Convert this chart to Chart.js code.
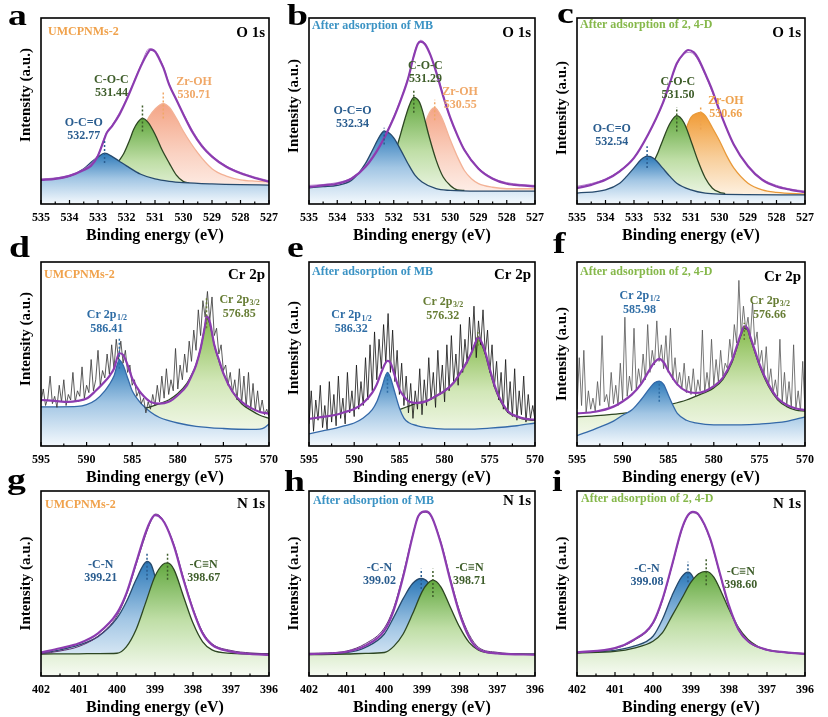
<!DOCTYPE html>
<html><head><meta charset="utf-8">
<script src="https://cdn.jsdelivr.net/npm/chart.js@4"></script>
<style>
body{margin:0;background:#fff;width:828px;height:717px;position:relative;overflow:hidden}
canvas{position:absolute}
.lt{position:absolute;font:bold 29px 'Liberation Serif',serif;line-height:1;color:#000;transform:scaleX(1.3);transform-origin:0 0}
</style></head><body>
<script>
// ---------------- DATA (x = binding energy eV, y = intensity a.u. 0-100) ----------------
// a: UMCPNMs-2, O 1s
const aPeaks = [532.77, 531.44, 530.71];
const aEnv = [[535,12.9],[534.5,13.5],[534,15.1],[533.5,18.3],[533.25,20.5],[533,26],[532.8,34],[532.7,38],[532.5,42],[532.25,48],[532,56],[531.75,65],[531.5,74],[531.3,80],[531.15,83],[531,82],[530.85,78],[530.7,73],[530.5,64],[530.25,56],[530,48],[529.7,39],[529.35,31],[529,25.5],[528.5,20],[528,16.5],[527.5,14],[527,12]];
const aRaw = [[535,13.5],[534.5,14],[534,15.5],[533.5,18.8],[533,26.5],[532.7,38.5],[532.5,42.5],[532,56.5],[531.5,74.5],[531.2,83.5],[531,82.5],[530.7,73.5],[530.5,64.5],[530,48.5],[529.5,35],[529,26],[528.5,20.5],[528,17],[527.5,14.5],[527,12.5]];
const aBlue = [[535,12.9],[534.5,13.8],[534,15],[533.5,19],[533.2,23],[533,25.3],[532.77,27.3],[532.5,25.5],[532.25,23],[532,20.5],[531.5,16],[531,13.5],[530.5,12.2],[530,11.5],[529,10.8],[528,10.4],[527,10.2]];
const aGreen = [[532.3,22.5],[532.1,27],[531.9,34],[531.75,40],[531.6,44],[531.44,46],[531.25,44],[531,37.5],[530.75,29],[530.5,22],[530.25,15.5],[530,12],[529.8,11.3]];
const aOrange = [[533,13.6],[532.5,17],[532,24],[531.5,38],[531.2,47],[531,51],[530.71,54],[530.5,52],[530.25,46],[530,39],[529.5,27.5],[529,19],[528.5,15],[528,13],[527.5,12.3],[527,12]];
const aMarks = [[22,34.5],[39,53],[46,61]];

// b: After adsorption of MB, O 1s
const bPeaks = [532.34, 531.29, 530.55];
const bEnv = [[535,9.1],[534.5,10],[534,10.9],[533.5,13.6],[533,20],[532.5,31],[532,46.4],[531.75,56],[531.5,67],[531.3,79],[531.15,86],[531.05,87.3],[530.9,86],[530.7,80],[530.5,71],[530.25,58],[530,46.4],[529.75,37],[529.5,29],[529,19],[528.5,13.6],[528,10.9],[527.5,10],[527,9.5]];
const bRaw = [[535,10],[534.5,10.5],[534,11.5],[533.5,14],[533,20.5],[532.5,31.5],[532,47],[531.5,67.5],[531.2,84.5],[531.05,88],[530.9,86.5],[530.5,71.5],[530,46],[529.5,29.5],[529,19.5],[528.5,14],[528,11.5],[527.5,10.5],[527,10]];
const bBlue = [[535,8.7],[534.5,9.3],[534,10],[533.5,12.7],[533.25,16.5],[533,21.8],[532.75,29],[532.5,36.4],[532.34,39.1],[532.15,38],[532,35.5],[531.75,29],[531.5,21.8],[531.25,15.5],[531,11.8],[530.5,8.2],[530,7.3],[529,6.9],[527,6.9]];
const bGreen = [[531.9,30],[531.75,38],[531.6,46],[531.45,53],[531.29,57.3],[531.1,55],[531,51],[530.75,36.4],[530.5,23.6],[530.25,14.5],[530,10],[529.75,7.6],[529.5,7.3]];
const bOrange = [[531.2,25],[531,36],[530.8,47],[530.55,51.8],[530.3,46.4],[530,34.5],[529.75,25.5],[529.5,18],[529.25,13.6],[529,11],[528.5,9],[528,8.2],[527,8.2]];
const bMarks = [[32,41],[49,62],[45,56]];

// c: After adsorption of 2, 4-D, O 1s
const cPeaks = [532.54, 531.50, 530.66];
const cEnv = [[535,8.5],[534.5,10.3],[534,13],[533.5,17.6],[533,24.8],[532.5,37.5],[532,53.8],[531.75,64.7],[531.5,75.5],[531.25,81],[531.1,82.8],[530.9,81.5],[530.75,78.3],[530.5,70],[530.25,61],[530,50.2],[529.5,32],[529,20.3],[528.5,13],[528,9.4],[527.5,7.6],[527,6.3]];
const cRaw = [[535,9.5],[534.5,11],[534,13.5],[533.5,18],[533,25],[532.5,37.5],[532,53.5],[531.5,75],[531.25,80.5],[531.1,81.5],[530.9,80.5],[530.5,69.5],[530,50],[529.5,32],[529,20.5],[528.5,13.5],[528,10],[527.5,8],[527,7]];
const cBlue = [[535,5.8],[534,7.6],[533.5,11.2],[533.25,15],[533,19.4],[532.75,23.9],[532.54,25.7],[532.3,24.5],[532,19.4],[531.75,15],[531.5,11.2],[531,7.6],[530.5,5.8],[530,5.3],[527,4.9]];
const cGreen = [[532.3,23],[532.15,28],[532,33.9],[531.75,43],[531.5,47.5],[531.25,43.8],[531,33.9],[530.75,23],[530.5,14],[530.25,8.5],[530,6.3],[529.8,5.6]];
const cOrange = [[531.25,37.5],[531,46.6],[530.8,48.7],[530.66,49.3],[530.5,47.5],[530.25,41],[530,34],[529.75,26],[529.5,19.4],[529,11.2],[528.5,7.6],[528,6.3],[527,5.3]];
const cMarks = [[19.4,31],[39,52],[40,52]];

// d: UMCPNMs-2, Cr 2p
const dPeaks = [586.41, 576.85];
const dEnv = [[595,25],[593.5,24.5],[592,24],[591,24.5],[590,25.8],[589,30],[588,35],[587.5,38],[587,42],[586.41,50.4],[586,49.5],[585.5,44],[585,36.7],[584.5,32],[584,28.5],[583,24],[582,23],[581,24],[580,27.6],[579,33],[578.5,38],[578,44],[577.5,53],[577,65.8],[576.85,70.4],[576.5,67.6],[576,55],[575.5,47],[575,39.5],[574,29.5],[573,24],[572,20.7],[571,18.5],[570,17.6]];
const dBlue = [[595,21.3],[593,21.3],[591,21.5],[590,22.5],[589,25],[588,30],[587.5,33.5],[587,38],[586.41,46.7],[586,44],[585.5,37],[585,30],[584.5,26],[584,23],[583,18.5],[582,15.5],[581,13.8],[580,12.5],[578,10.7],[575,9.5],[572,9],[571,9.2],[570.5,10],[570,12]];
const dGreen = [[587,16.7],[586,17.5],[585,18.5],[584,20],[583,21.3],[582,23],[581,25],[580,28.5],[579,34],[578.5,38.5],[578,44],[577.5,53],[577,65.8],[576.85,69.5],[576.5,66.7],[576,55],[575.5,46.5],[575,39.5],[574,29.5],[573,23],[572,19.5],[571,16.7],[570,15]];
const dRaw = [24,31,22,26,38,23,27,21,33,24, 36,22,28,25,40,24,30,27,43,26, 33,29,47,30,36,52,33,41,37,50, 39,55,42,58,47,57,45,52,40,44, 33,36,27,30,23,26,18,24,20,28, 22,33,24,38,26,42,28,36,30,53, 31,44,36,50,40,57,46,63,52,74, 60,79,70,84,68,81,60,64,50,55, 41,44,33,40,29,36,25,42,23,38, 21,40,20,34,19,30,18,25,17,20, 16];
const dMarks = [[42,58.5],[64,81]];

// e: After adsorption of MB, Cr 2p
const ePeaks = [586.32, 576.32];
const eEnv = [[595,14.7],[593.5,15.8],[592,17],[591,18.5],[590,20.1],[589,23.4],[588,29],[587.5,33.5],[587,40],[586.32,46.3],[586,45.4],[585.5,38],[585,30.8],[584.5,27],[584,24.4],[583,23.4],[582,24.4],[581,27],[580,29.9],[579,34.4],[578,41.8],[577.5,46],[577,51],[576.5,57.3],[576.32,59.2],[576,57.3],[575.5,51],[575,41.8],[574.5,33.5],[574,27],[573,18.9],[572,16.1],[571,14.7],[570,14.3]];
const eBlue = [[595,6.6],[593.5,8.2],[592,9.7],[591,11.1],[590,12.5],[589,15.2],[588,19.8],[587.5,24],[587,30.8],[586.32,40],[586,37.2],[585.5,29],[585,20.7],[584.5,15.2],[584,12.8],[583,11],[582,10],[580,9.2],[577,9.2],[575,9.7],[572,11],[570,12.5]];
const eGreen = [[585,19.8],[584,21.6],[583,23.4],[582,24.4],[581,27],[580,29.9],[579,34.4],[578,41.8],[577.5,46],[577,51],[576.5,57.3],[576.32,59.2],[576,56.4],[575.5,50],[575,40.8],[574.5,32.5],[574,26.2],[573,18.3],[572,15.8],[571,14.3],[570,13.9]];
const eRaw = [12,30,8,25,14,33,10,22,9,35, 13,28,11,38,15,26,12,40,18,30, 16,44,20,35,22,48,25,55,30,62, 36,58,42,66,45,72,40,63,35,52, 28,45,22,38,18,34,15,30,20,42, 17,36,22,48,25,40,21,52,28,44, 24,55,30,60,35,50,33,66,40,58, 45,70,52,76,48,68,55,74,50,63, 40,55,32,46,25,40,20,47,18,35, 16,42,14,30,17,38,13,28,15,22, 14];
const eMarks = [[29,40],[54.5,62]];

// f: After adsorption of 2, 4-D, Cr 2p
const fPeaks = [585.98, 576.66];
const fEnv = [[595,17.7],[593,18.6],[591,21.4],[590,24.2],[589,27.9],[588,33.5],[587,41.8],[586.5,45.5],[585.98,47.4],[585.5,45.5],[585,40.9],[584,33.5],[583,29.7],[582,28.8],[581,29.7],[580,32.5],[579,37.2],[578,46.5],[577.5,53.9],[577,61.3],[576.66,65],[576.3,64],[576,59.5],[575.5,52],[575,44.6],[574,33.5],[573,26],[572,22.3],[571,20.4],[570,19.5]];
const fBlue = [[595,5.6],[593,9.3],[591,13.5],[590,16.7],[589,19.5],[588,25],[587,31.6],[586.5,34.4],[585.98,35.3],[585.5,33.5],[585,27.9],[584.5,22.3],[584,17.7],[583,14],[582,12.6],[580,11.5],[577,11.5],[575,11.9],[572,13.4],[570,15.8]];
const fGreen = [[595,15.8],[592,16.8],[590,17.7],[587,20],[585,22.3],[583,25],[582,27],[581,29],[580,31.6],[579,36.2],[578,45.5],[577.5,53],[577,60.4],[576.66,64.1],[576.3,63.2],[576,58.6],[575.5,51.1],[575,43.7],[574,32.5],[573,25.1],[572,21.4],[571,19.5],[570,19]];
const fRaw = [20,48,22,52,18,30,20,26,19,35, 22,60,24,28,21,40,23,33,22,45, 25,70,27,38,30,64,31,42,34,50, 36,66,40,52,44,68,46,55,42,60, 40,64,36,48,33,40,31,45,29,38, 28,42,27,36,30,63,29,40,31,58, 33,47,35,52,38,45,42,58,48,66, 56,90,60,76,63,70,58,78,55,62, 45,52,38,54,33,42,29,36,27,58, 24,40,22,35,21,55,20,30,19,46, 19];
const fMarks = [[24,35],[57.6,67]];
const crRawStart = 595, crRawStep = 0.25;

// g: UMCPNMs-2, N 1s
const gPeaks = [399.21, 398.67];
const gEnv = [[402,12.7],[401.5,15],[401,17.7],[400.5,23.1],[400,34],[399.75,44.8],[399.5,61],[399.25,77.4],[399.1,84.6],[399,87],[398.9,86.4],[398.75,82.8],[398.5,70.2],[398.25,52],[398,35.8],[397.75,23.1],[397.5,16.8],[397,13.2],[396.5,11.9],[396,11.4]];
const gRaw = [[402,12],[401.5,13.5],[401,16],[400.5,21.5],[400,32.5],[399.75,44],[399.5,60],[399.25,76],[399.1,84],[399,87.5],[398.9,87],[398.75,83],[398.5,71],[398.25,53],[398,36.5],[397.75,24],[397.5,17.5],[397,13.8],[396.5,12.5],[396,12]];
const gBlue = [[402,12.3],[401.5,14.1],[401,16.8],[400.5,21.3],[400,31.3],[399.75,40.3],[399.5,52],[399.3,60.2],[399.21,62],[399.1,60.2],[399,53.9],[398.9,46.7],[398.75,34],[398.5,21.3],[398.25,15],[398,12.7],[397.5,11.9],[396,11.9]];
const gGreen = [[402,11.9],[401,12],[400.5,12.1],[400,12.3],[399.75,15.9],[399.5,25],[399.25,39.4],[399,53.9],[398.8,60.2],[398.67,61.1],[398.5,57.5],[398.25,43],[398,28.6],[397.75,18.6],[397.5,14.1],[397,12.3],[396,11.8]];
const gMarks = [[52,66.5],[52,66.5]];

// h: After adsorption of MB, N 1s
const hPeaks = [399.02, 398.71];
const hEnv = [[402,11.8],[401,13.1],[400.5,16.4],[400,24.5],[399.75,35.5],[399.5,53.6],[399.25,75.5],[399.1,86.4],[398.9,89],[398.75,86.4],[398.5,71.8],[398.25,51.8],[398,33.6],[397.75,21],[397.5,14.5],[397,12.2],[396,11.5]];
const hRaw = [[402,12.3],[401.5,12.5],[401,13.5],[400.5,17.5],[400,26],[399.75,37],[399.5,55],[399.25,76],[399.1,86],[398.9,88.5],[398.75,86],[398.5,72.5],[398.25,53],[398,35],[397.75,22.5],[397.5,15.5],[397,12.8],[396.5,12],[396,11.5]];
const hBlue = [[402,11.8],[401,12.7],[400.5,15.5],[400,22.7],[399.75,31.8],[399.5,41.8],[399.25,50],[399.02,52.7],[398.85,50.9],[398.7,45.5],[398.5,35.5],[398.25,24.5],[398,17.3],[397.5,12.7],[397,11.8],[396,11.8]];
const hGreen = [[402,11.5],[401,11.9],[400.5,12.2],[400,12.7],[399.75,16],[399.5,22.7],[399.25,33.6],[399,45.5],[398.85,50],[398.71,51.8],[398.5,48.2],[398.25,37.3],[398,26.4],[397.75,18.2],[397.5,14],[397,12.2],[396,11.8]];
const hMarks = [[47,58],[42.7,58]];

// i: After adsorption of 2, 4-D, N 1s
const iPeaks = [399.08, 398.60];
const iEnv = [[402,12.8],[401,15.1],[400.5,19.7],[400,28.8],[399.75,41.6],[399.5,59.9],[399.25,79],[399.1,86.3],[398.95,88.7],[398.8,87.2],[398.5,74.5],[398.25,56.2],[398,38],[397.75,25.2],[397.5,18.8],[397,14.2],[396.5,12.8],[396,12]];
const iRaw = [[402,12.5],[401,14.8],[400.5,19.2],[400,28.2],[399.75,41],[399.5,59.5],[399.25,78.5],[399.1,86],[398.95,88.3],[398.8,86.8],[398.5,74],[398.25,55.8],[398,37.5],[397.75,24.8],[397.5,18.5],[397,14],[396.5,12.6],[396,11.8]];
const iBlue = [[402,12.4],[401,13.9],[400.5,16.1],[400,21.5],[399.75,30.7],[399.5,43.4],[399.25,53.5],[399.08,56.2],[398.95,53.5],[398.8,43.4],[398.65,32.5],[398.5,23.4],[398.25,16.1],[398,13.3],[397,12.4],[396,12]];
const iGreen = [[402,12.4],[401,13.3],[400.5,15.1],[400,18.8],[399.75,23.4],[399.5,32.5],[399.25,41.6],[399,50.7],[398.8,55.3],[398.6,56.6],[398.4,53.5],[398.2,45.3],[398,36.1],[397.75,26.1],[397.5,19.7],[397.25,16.1],[397,14.2],[396.5,12.8],[396,12]];
const iMarks = [[50.7,61.7],[49,63.5]];

// ---------------- STYLE ----------------
const SERIF = "'Liberation Serif','Times New Roman',serif";
const FB = ['#2b78b8','#a2c6e4','#f4f9fd'], FG = ['#62a83f','#bfdea6','#f7fbf3'],
      FS = ['#f4a485','#fad2c2','#fff7f3'], FO = ['#f19b35','#f8cf9c','#fff9f1'],
      FCG = ['#86bb4e','#d2e7b8','#fafcf5'];
const LB='#274a6d', LG='#2d4622', LS='#f3b296', LO='#e99a3a', LCB='#3469a8', ENV='#8c3cb0', RAWP='#b47ccc', RAWK='#333333';
const T_B='#2a5d8f', T_G='#3f5e2b', T_O='#f0a868', T_O2='#eea24e', T_CB='#2f6da5', T_CG='#677d35';
const TAG_UMC='#f0a24c', TAG_MB='#3b93c4', TAG_D='#86b84b';
const UMC='UMCPNMs-2', MB='After adsorption of MB', D24='After adsorption of 2, 4-D';
const ROW=[[18,204],[262,446],[491,676]], COL=[[41,271],[309,537],[577,807]];

const crRaw = ys => ys.map((y,k)=>[crRawStart - k*crRawStep, y]);

const panels = [
 {L:'a',lx:8,lt:1,r:0,c:0,xr:[527,535],st:1,tag:UMC,tc:TAG_UMC,tf:12,tdx:7,tdy:14,el:'O 1s',edy:15,yo:-16,
  env:aEnv,raw:aRaw,rawC:RAWP,peaks:aPeaks,marks:aMarks,
  comps:[{d:aBlue,l:LB,f:FB,o:2,t:'O-C=O',tc:T_B,nx:533.5,ny:43.4},{d:aGreen,l:LG,f:FG,o:3,t:'C-O-C',tc:T_G,nx:532.53,ny:66.8},{d:aOrange,l:LS,f:FS,o:4,t:'Zr-OH',tc:T_O,nx:529.63,ny:65.9}]},
 {L:'b',lx:287,lt:1,r:0,c:1,xr:[527,535],st:1,tag:MB,tc:TAG_MB,tf:12,tdx:3,tdy:8,el:'O 1s',edy:15,yo:-5,
  env:bEnv,raw:bRaw,rawC:RAWP,peaks:bPeaks,marks:bMarks,
  comps:[{d:bBlue,l:LB,f:FB,o:2,t:'O-C=O',tc:T_B,nx:533.46,ny:50},{d:bGreen,l:LG,f:FG,o:3,t:'C-O-C',tc:T_G,nx:530.88,ny:74.5},{d:bOrange,l:LS,f:FS,o:4,t:'Zr-OH',tc:T_O,nx:529.65,ny:60}]},
 {L:'c',lx:557,lt:-1,r:0,c:2,xr:[527,535],st:1,tag:D24,tc:TAG_D,tf:12,tdx:3,tdy:7,el:'O 1s',edy:15,yo:-3,
  env:cEnv,raw:cRaw,rawC:RAWP,peaks:cPeaks,marks:cMarks,
  comps:[{d:cBlue,l:LB,f:FB,o:2,t:'O-C=O',tc:T_B,nx:533.78,ny:40.2},{d:cGreen,l:LG,f:FG,o:3,t:'C-O-C',tc:T_G,nx:531.46,ny:65.6},{d:cOrange,l:LO,f:FO,o:4,t:'Zr-OH',tc:T_O2,nx:529.78,ny:55.6}]},
 {L:'d',lx:9,lt:233,r:1,c:0,xr:[570,595],st:5,tag:UMC,tc:TAG_UMC,tf:12,tdx:3,tdy:13,el:'Cr 2p',edy:13,yo:-15,
  env:dEnv,raw:crRaw(dRaw),rawC:RAWK,peaks:dPeaks,marks:dMarks,cr:true,
  comps:[{d:dBlue,l:LCB,f:FB,o:2,t:'Cr 2p',sub:'1/2',tc:T_CB,nx:587.8,ny:71.3},{d:dGreen,l:LG,f:FCG,o:3,t:'Cr 2p',sub:'3/2',tc:T_CG,nx:573.25,ny:79.5}]},
 {L:'e',lx:287,lt:233,r:1,c:1,xr:[570,595],st:5,tag:MB,tc:TAG_MB,tf:12,tdx:3,tdy:10,el:'Cr 2p',edy:13,yo:-6,
  env:eEnv,raw:crRaw(eRaw),rawC:'#111',peaks:ePeaks,marks:eMarks,cr:true,
  comps:[{d:eBlue,l:LCB,f:FB,o:2,t:'Cr 2p',sub:'1/2',tc:T_CB,nx:590.33,ny:71},{d:eGreen,l:LG,f:FCG,o:3,t:'Cr 2p',sub:'3/2',tc:T_CG,nx:580.2,ny:78.4}]},
 {L:'f',lx:553,lt:229,r:1,c:2,xr:[570,595],st:5,tag:D24,tc:TAG_D,tf:12,tdx:3,tdy:10,el:'Cr 2p',edy:15,yo:0,
  env:fEnv,raw:crRaw(fRaw),rawC:'#555',peaks:fPeaks,marks:fMarks,cr:true,
  comps:[{d:fBlue,l:LCB,f:FB,o:2,t:'Cr 2p',sub:'1/2',tc:T_CB,nx:588.14,ny:81.8},{d:fGreen,l:LG,f:FCG,o:3,t:'Cr 2p',sub:'3/2',tc:T_CG,nx:573.88,ny:79}]},
 {L:'g',lx:7,lt:465,r:2,c:0,xr:[396,402],st:1,tag:UMC,tc:TAG_UMC,tf:12,tdx:4,tdy:14,el:'N 1s',edy:13,yo:0,
  env:gEnv,raw:gRaw,rawC:'#5e3173',peaks:gPeaks,marks:gMarks,
  comps:[{d:gBlue,l:LB,f:FB,o:3,t:'-C-N',tc:T_B,nx:400.43,ny:60.2},{d:gGreen,l:LG,f:FG,o:2,t:'-C\u2261N',tc:T_G,nx:397.72,ny:60.2}]},
 {L:'h',lx:284,lt:467,r:2,c:1,xr:[396,402],st:1,tag:MB,tc:TAG_MB,tf:12,tdx:4,tdy:10,el:'N 1s',edy:10,yo:0,
  env:hEnv,raw:hRaw,rawC:'#5e3173',peaks:hPeaks,marks:hMarks,
  comps:[{d:hBlue,l:LB,f:FB,o:3,t:'-C-N',tc:T_B,nx:400.13,ny:58.2},{d:hGreen,l:LG,f:FG,o:2,t:'-C\u2261N',tc:T_G,nx:397.74,ny:58.2}]},
 {L:'i',lx:552,lt:467,r:2,c:2,xr:[396,402],st:1,tag:D24,tc:TAG_D,tf:12,tdx:4,tdy:8,el:'N 1s',edy:13,yo:0,
  env:iEnv,raw:iRaw,rawC:'#5e3173',peaks:iPeaks,marks:iMarks,
  comps:[{d:iBlue,l:LB,f:FB,o:3,t:'-C-N',tc:T_B,nx:400.16,ny:58},{d:iGreen,l:LG,f:FG,o:2,t:'-C\u2261N',tc:T_G,nx:397.69,ny:56.2}]}
];

// ---------------- RENDER ----------------
Chart.defaults.font.family = SERIF;
const PADL=41, PADT=18, PADR=14, AXH=41;

function peakOf(d){ return d.reduce((m,p)=>Math.max(m,p[1]),0); }
function gradFill(stops, peak){
  return (ctx)=>{
    const ch = ctx.chart, a = ch.chartArea;
    if(!a) return stops[1];
    const y0 = ch.scales.y.getPixelForValue(peak);
    const g = ch.ctx.createLinearGradient(0, y0, 0, a.bottom);
    g.addColorStop(0, stops[0]); g.addColorStop(0.5, stops[1]); g.addColorStop(1, stops[2]);
    return g;
  };
}

function makeDeco(p){
  return { id:'deco'+p.L,
    afterDatasetsDraw(chart){
      const {ctx, chartArea:a, scales:{x,y}} = chart;
      ctx.save();
      ctx.strokeStyle='#000'; ctx.lineWidth=1.6;
      ctx.strokeRect(a.left, a.top, a.right-a.left, a.bottom-a.top);
      ctx.lineWidth=1.2;
      const tk = x.ticks;
      tk.forEach((t,k)=>{
        const px = x.getPixelForValue(t.value);
        ctx.beginPath(); ctx.moveTo(px,a.bottom); ctx.lineTo(px,a.bottom-4); ctx.stroke();
        if(k<tk.length-1){
          const pm = x.getPixelForValue((t.value+tk[k+1].value)/2);
          ctx.beginPath(); ctx.moveTo(pm,a.bottom); ctx.lineTo(pm,a.bottom-2.5); ctx.stroke();
        }
      });
      ctx.textBaseline='middle';
      ctx.fillStyle=p.tc; ctx.textAlign='left'; ctx.font='bold '+p.tf+'px '+SERIF;
      ctx.fillText(p.tag, a.left+p.tdx, a.top+p.tdy);
      ctx.fillStyle='#000'; ctx.textAlign='right'; ctx.font='bold 15px '+SERIF;
      ctx.fillText(p.el, a.right-4, a.top+p.edy);
      p.comps.forEach((c,k)=>{
        const px = x.getPixelForValue(c.nx), py = y.getPixelForValue(c.ny);
        const gap = p.cr ? 14 : 13;
        ctx.fillStyle=c.tc;
        const f1='bold 12px '+SERIF, f2='bold 8px '+SERIF;
        if(c.sub){
          ctx.font=f1; const w1=ctx.measureText(c.t).width;
          ctx.font=f2; const w2=ctx.measureText(c.sub).width;
          const x0 = px-(w1+w2)/2;
          ctx.textAlign='left';
          ctx.font=f1; ctx.fillText(c.t, x0, py);
          ctx.font=f2; ctx.fillText(c.sub, x0+w1+0.5, py+3.5);
        } else {
          ctx.textAlign='center'; ctx.font=f1; ctx.fillText(c.t, px, py);
        }
        ctx.textAlign='center'; ctx.font=f1;
        ctx.fillText(p.peaks[k].toFixed(2), px, py+gap);
      });
      ctx.translate(a.left-15, (a.top+a.bottom)/2 + p.yo);
      ctx.rotate(-Math.PI/2);
      ctx.fillStyle='#000'; ctx.textAlign='center'; ctx.font='bold 15px '+SERIF;
      ctx.fillText('Intensity (a.u.)', 0, 0);
      ctx.restore();
    }
  };
}

panels.forEach(p=>{
  const [t,b] = ROW[p.r], [l,r] = COL[p.c];
  const cv = document.createElement('canvas');
  const W = (r-l)+PADL+PADR, H = (b-t)+PADT+AXH;
  cv.width=W; cv.height=H; cv.style.width=W+'px'; cv.style.height=H+'px';
  cv.style.left=(l-PADL)+'px'; cv.style.top=(t-PADT)+'px';
  document.body.appendChild(cv);
  const lt = document.createElement('div');
  lt.className='lt'; lt.textContent=p.L; lt.style.left=p.lx+'px'; lt.style.top=p.lt+'px';
  document.body.appendChild(lt);

  const base = {pointRadius:0, pointHoverRadius:0, cubicInterpolationMode:'monotone', fill:false};
  const ds = [];
  ds.push(Object.assign({}, base, {data:p.env, borderColor:ENV, borderWidth:2.2, order:0}));
  if(p.cr){
    ds.push(Object.assign({}, base, {data:p.raw, borderColor:p.rawC, borderWidth:0.8, cubicInterpolationMode:'default', tension:0, order:1}));
  } else {
    ds.push(Object.assign({}, base, {data:p.raw, borderColor:p.rawC, borderWidth:1, order:1}));
  }
  p.comps.forEach(c=>{
    ds.push(Object.assign({}, base, {data:c.d, borderColor:c.l, borderWidth:1.3, order:c.o,
      fill:'start', backgroundColor:gradFill(c.f, peakOf(c.d))}));
  });
  p.comps.forEach((c,k)=>{
    ds.push(Object.assign({}, base, {data:[[p.peaks[k],p.marks[k][0]],[p.peaks[k],p.marks[k][1]]],
      borderColor:c.tc, borderWidth:1.5, borderDash:[2,2], order:-1, cubicInterpolationMode:'default', tension:0}));
  });

  new Chart(cv, {
    type:'line',
    data:{datasets:ds},
    options:{
      responsive:false, animation:false, devicePixelRatio:1, events:[],
      layout:{padding:{left:PADL, top:PADT, right:PADR, bottom:0}},
      plugins:{legend:{display:false}, tooltip:{enabled:false}},
      scales:{
        x:{type:'linear', min:p.xr[0], max:p.xr[1], reverse:true,
           grid:{display:false, drawTicks:false}, border:{display:false},
           ticks:{stepSize:p.st, padding:7, color:'#000', font:{size:12, weight:'bold', family:SERIF}, maxRotation:0, autoSkip:false},
           title:{display:true, text:'Binding energy (eV)', color:'#000', padding:0, font:{size:16, weight:'bold', family:SERIF}},
           afterFit:(s)=>{ s.height = AXH; }},
        y:{type:'linear', min:0, max:100, display:false}
      }
    },
    plugins:[makeDeco(p)]
  });
});
</script>
</body></html>
